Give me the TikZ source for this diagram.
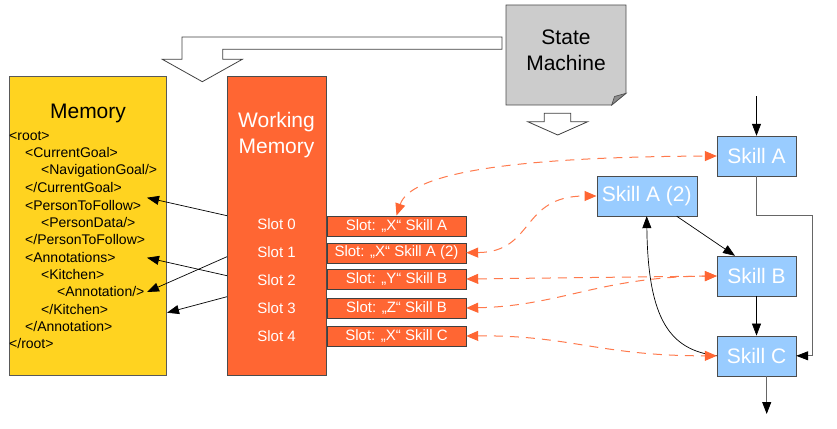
\documentclass[tikz,border=0pt]{standalone}
\usepackage{fontspec}
\setmainfont{Liberation Sans}
\usetikzlibrary{arrows.meta}
\definecolor{memyellow}{HTML}{FFD320}
\definecolor{wmorange}{HTML}{FF6633}
\definecolor{skillblue}{HTML}{99CCFF}
\definecolor{dashorange}{HTML}{FF7A4D}
\definecolor{smgray}{HTML}{CCCCCC}
\definecolor{foldgray}{HTML}{8C8C8C}
\begin{document}
\begin{tikzpicture}[x=1pt,y=-1pt,
  titlefont/.style={font=\fontsize{21}{26}\selectfont, inner sep=0pt, align=center},
  membox/.style={draw=black!65, fill=memyellow, minimum width=157pt, minimum height=299pt, inner sep=0pt},
  wmbox/.style={draw=black!70, fill=wmorange, minimum width=99pt, minimum height=299pt, inner sep=0pt},
  xmlline/.style={anchor=west, inner sep=0pt, font=\fontsize{14}{16}\selectfont},
  slotlabel/.style={inner sep=0pt, text=white, font=\fontsize{15}{17}\selectfont},
  slotbox/.style={draw=black!75, fill=wmorange, minimum width=139pt, minimum height=20pt, inner sep=0pt, text=white, font=\fontsize{15}{17}\selectfont},
  skillbox/.style={draw=black!70, fill=skillblue, minimum height=40pt, inner sep=0pt, text=white, font=\fontsize{21}{25}\selectfont},
  blackarrow/.style={-{Triangle[length=12pt,width=9pt]}, black, line width=0.7pt},
  grayarrow/.style={-{Triangle[length=12pt,width=9pt,color=black]}, black!60, line width=0.9pt},
  dasharrow/.style={{Triangle[length=12pt,width=10pt,color=wmorange]}-{Triangle[length=12pt,width=10pt,color=wmorange]}, draw=dashorange, line width=1pt, dash pattern=on 9pt off 7pt},
  hollow/.style={draw=black!75, fill=white, line width=0.8pt, line join=miter}
]
\useasboundingbox (0,0) rectangle (837,428);

% hollow arrows
\draw[hollow] (502,37) -- (182,37) -- (182,59.3) -- (162.3,59.3) -- (202.3,81.7) -- (242.3,59.3) -- (222.7,59.3) -- (222.7,49.3) -- (502,49.3) -- cycle;
\draw[hollow] (544.3,113.3) -- (570.7,113.3) -- (570.7,121.7) -- (587.7,121.7) -- (557.7,135) -- (527.7,121.7) -- (544.3,121.7) -- cycle;

% state machine note
\draw[draw=black!70, fill=smgray, line width=0.8pt] (506,5) -- (626,5) -- (626,93.3) -- (611.7,105) -- (506,105) -- cycle;
\draw[draw=black!70, fill=foldgray, line width=0.6pt] (611.7,105) -- (626,93.3) -- (614.5,96.5) -- cycle;
\node[titlefont] (sm) at (566,50.5) {State\\Machine};

% memory
\node[membox] (mem) at (87.5,225.3) {};
\node[titlefont] (memtitle) at (88,113) {Memory};
\node[xmlline] (x1) at (9,135.7) {<root>};
\node[xmlline] (x2) at (25,152.7) {<CurrentGoal>};
\node[xmlline] (x3) at (41,170.7) {<NavigationGoal/>};
\node[xmlline] (x4) at (25,187.7) {</CurrentGoal>};
\node[xmlline] (x5) at (25,205) {<PersonToFollow>};
\node[xmlline] (x6) at (41,222) {<PersonData/>};
\node[xmlline] (x7) at (25,239.7) {</PersonToFollow>};
\node[xmlline] (x8) at (25,257) {<Annotations>};
\node[xmlline] (x9) at (41,274.3) {<Kitchen>};
\node[xmlline] (x10) at (57,291.7) {<Annotation/>};
\node[xmlline] (x11) at (41,309.3) {</Kitchen>};
\node[xmlline] (x12) at (25,326.7) {</Annotation>};
\node[xmlline] (x13) at (9,343.3) {</root>};

% working memory
\node[wmbox] (wm) at (276.5,225.3) {};
\node[titlefont, text=white] (wmtitle) at (276.5,135) {Working\\Memory};
\node[slotlabel] (sl0) at (276.5,224) {Slot 0};
\node[slotlabel] (sl1) at (276.5,251.7) {Slot 1};
\node[slotlabel] (sl2) at (276.5,280) {Slot 2};
\node[slotlabel] (sl3) at (276.5,307.7) {Slot 3};
\node[slotlabel] (sl4) at (276.5,335.7) {Slot 4};

% slot boxes
\node[slotbox] (sb0) at (396.5,225.7) {Slot: „X“ Skill A};
\node[slotbox] (sb1) at (396.5,252.7) {Slot: „X“ Skill A (2)};
\node[slotbox] (sb2) at (396.5,279) {Slot: „Y“ Skill B};
\node[slotbox] (sb3) at (396.5,308) {Slot: „Z“ Skill B};
\node[slotbox] (sb4) at (396.5,336) {Slot: „X“ Skill C};

% skills
\node[skillbox, minimum width=79pt] (skA) at (756.5,156) {Skill A};
\node[skillbox, minimum width=100pt] (skA2) at (646.7,196) {Skill A (2)};
\node[skillbox, minimum width=79pt] (skB) at (756.5,276) {Skill B};
\node[skillbox, minimum width=79pt] (skC) at (756.5,355.8) {Skill C};

% coordinates
\coordinate (inA) at (756.5,96);
\coordinate (ra) at (812,215.7);
\coordinate (outC) at (766.7,414);
\coordinate (w1) at (227,215.7);
\coordinate (w2) at (227,275.7);
\coordinate (w3) at (227,256.7);
\coordinate (w4) at (227,296.7);
\coordinate (t1) at (147,197.7);
\coordinate (t2) at (147,257.7);
\coordinate (t3) at (147,292);
\coordinate (t4) at (167,312.7);

% skill edges
\draw[blackarrow] (inA) -- (skA.north);
\draw[grayarrow] (skA.south) |- (ra) |- (skC.east);
\draw[blackarrow] ([xshift=30pt]skA2.south) -- ([xshift=-21.5pt]skB.north);
\draw[blackarrow] (skB.south) -- (skC.north);
\draw[grayarrow] ([xshift=10.2pt]skC.south) -- (outC);
\draw[{Triangle[length=12pt,width=9pt]}-, black, line width=0.7pt] (skA2.south) .. controls (648,320) and (670,350) .. (skC.west);

% memory arrows
\draw[blackarrow] (w1) -- (t1);
\draw[blackarrow] (w2) -- (t2);
\draw[blackarrow] (w3) -- (t3);
\draw[blackarrow] (w4) -- (t4);

% dashed links
\draw[dasharrow] (sb0.north) .. controls (410,175) and (500,157) .. (skA.west);
\draw[dasharrow] (sb1.east) .. controls (535,252) and (520,196) .. (skA2.west);
\draw[dasharrow] (sb2.east) -- (skB.west);
\draw[dasharrow] (sb3.east) .. controls (560,306) and (600,277) .. (skB.west);
\draw[dasharrow] (sb4.east) .. controls (570,335) and (600,356) .. (skC.west);
\end{tikzpicture}
\end{document}
